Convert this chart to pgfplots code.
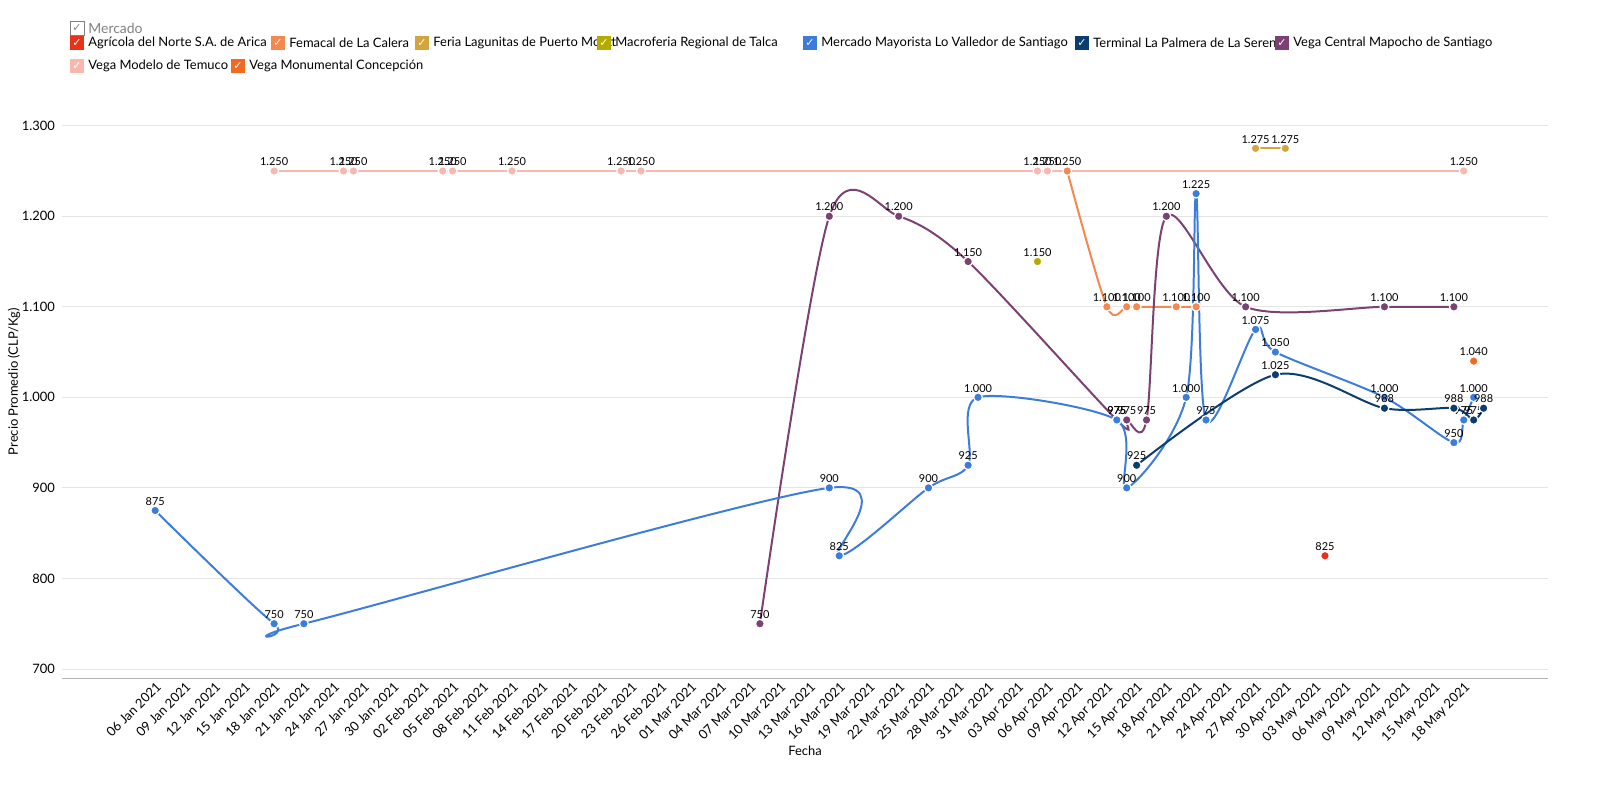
\documentclass[border=0pt]{standalone}
\usepackage{pgfplots}
\pgfplotsset{compat=1.18}
\usepackage{fontspec}
\setmainfont{Lato}
\newfontfamily\dv{DejaVu Sans}
\definecolor{cArica}{HTML}{E8331A}
\definecolor{cFem}{HTML}{F5874F}
\definecolor{cLag}{HTML}{D4A53C}
\definecolor{cTal}{HTML}{B5AA00}
\definecolor{cLov}{HTML}{3C7DDC}
\definecolor{cPal}{HTML}{0B3D6E}
\definecolor{cMap}{HTML}{7B4173}
\definecolor{cTem}{HTML}{F9B8AE}
\definecolor{cMon}{HTML}{F26A21}
\newcommand\lgbox[3]{\fill[#3] (#1,#2-3.5) rectangle ++(7,7);
 \node[white,font=\dv\fontsize{5.5}{6}\selectfont,inner sep=0] at (#1+3.5,#2) {✓};}
\begin{document}
\begin{tikzpicture}[x=1bp,y=1bp]
\useasboundingbox (-31,-53.5) rectangle (769,339);
\begin{axis}[at={(0,0)},anchor=south west,scale only axis,width=743bp,height=296.5bp,
 xmin=-9.4,xmax=140.5,ymin=690,ymax=1345,
 axis line style={draw=none},axis x line*=bottom,
 x axis line style={draw=gray!60},
 ytick={700,800,...,1300},
 ymajorgrids,grid style={gray!20},
 major tick length=0pt,
 xtick={0,3,...,132},
 xticklabels={06 Jan 2021,09 Jan 2021,12 Jan 2021,15 Jan 2021,18 Jan 2021,21 Jan 2021,24 Jan 2021,27 Jan 2021,30 Jan 2021,02 Feb 2021,05 Feb 2021,08 Feb 2021,11 Feb 2021,14 Feb 2021,17 Feb 2021,20 Feb 2021,23 Feb 2021,26 Feb 2021,01 Mar 2021,04 Mar 2021,07 Mar 2021,10 Mar 2021,13 Mar 2021,16 Mar 2021,19 Mar 2021,22 Mar 2021,25 Mar 2021,28 Mar 2021,31 Mar 2021,03 Apr 2021,06 Apr 2021,09 Apr 2021,12 Apr 2021,15 Apr 2021,18 Apr 2021,21 Apr 2021,24 Apr 2021,27 Apr 2021,30 Apr 2021,03 May 2021,06 May 2021,09 May 2021,12 May 2021,15 May 2021,18 May 2021},
 x tick label style={rotate=45,anchor=north east,font=\fontsize{6.5}{7}\selectfont,inner sep=1pt},
 y tick label style={font=\fontsize{6.5}{7}\selectfont},
 /pgf/number format/.cd,1000 sep={.},assume math mode=true,/pgfplots/.cd,
 xlabel={Fecha},ylabel={Precio Promedio (CLP/Kg)},
 label style={font=\fontsize{6.5}{7}\selectfont},
 xlabel style={yshift=4bp},ylabel style={yshift=-6bp},
 nodes near coords,
 every node near coord/.append style={font=\fontsize{5.5}{6}\selectfont,text=black,yshift=-1bp},
 every axis plot/.append style={line width=1pt,mark=*,mark size=2.2pt},
]
\addplot[cTem,smooth,mark options={fill=cTem,draw=white,line width=0.6pt}] coordinates {(12,1250)(19,1250)(20,1250)(29,1250)(30,1250)(36,1250)(47,1250)(49,1250)(89,1250)(90,1250)(132,1250)};
\addplot[cFem,smooth,tension=0.5,mark options={fill=cFem,draw=white,line width=0.6pt}] coordinates {(92,1250)(96,1100)(98,1100)(99,1100)(103,1100)(105,1100)};
\addplot[cLag,mark options={fill=cLag,draw=white,line width=0.6pt}] coordinates {(111,1275)(114,1275)};
\addplot[cTal,mark options={fill=cTal,draw=white,line width=0.6pt}] coordinates {(89,1150)};
\addplot[cMap,smooth,tension=0.5,mark options={fill=cMap,draw=white,line width=0.6pt}] coordinates {(61,750)(68,1200)(75,1200)(82,1150)(97,975)(98,975)(100,975)(102,1200)(110,1100)(124,1100)(131,1100)};
\addplot[cLov,smooth,tension=0.5,mark options={fill=cLov,draw=white,line width=0.6pt}] coordinates {(0,875)(12,750)(15,750)(68,900)(69,825)(78,900)(82,925)(83,1000)(97,975)(98,900)(104,1000)(105,1225)(106,975)(111,1075)(113,1050)(124,1000)(131,950)(132,975)(133,1000)};
\addplot[cPal,smooth,tension=0.5,mark options={fill=cPal,draw=white,line width=0.6pt}] coordinates {(99,925)(113,1025)(124,988)(131,988)(133,975)(134,988)};
\addplot[cArica,mark options={fill=cArica,draw=white,line width=0.6pt}] coordinates {(118,825)};
\addplot[cMon,mark options={fill=cMon,draw=white,line width=0.6pt}] coordinates {(133,1040)};
\end{axis}
\tikzset{lg/.style={anchor=west,font=\fontsize{6.5}{7}\selectfont,inner sep=0pt}}
\draw[gray] (4,321.5) rectangle ++(7,7);
\node[gray,font=\dv\fontsize{5.5}{6}\selectfont,inner sep=0] at (7.5,325) {✓};
\node[lg,text=gray] at (13,325) {\fontsize{7}{8}\selectfont Mercado};
\lgbox{4}{317.5}{cArica}\node[lg] at (13,317.5) {Agrícola del Norte S.A. de Arica};
\lgbox{104.5}{317.5}{cFem}\node[lg] at (113.5,317.5) {Femacal de La Calera};
\lgbox{176.5}{317.5}{cLag}\node[lg] at (185.5,317.5) {Feria Lagunitas de Puerto Montt};
\lgbox{267.5}{317.5}{cTal}\node[lg] at (276.5,317.5) {Macroferia Regional de Talca};
\lgbox{370.5}{317.5}{cLov}\node[lg] at (379.5,317.5) {Mercado Mayorista Lo Valledor de Santiago};
\lgbox{506.5}{317.5}{cPal}\node[lg] at (515.5,317.5) {Terminal La Palmera de La Serena};
\lgbox{606.5}{317.5}{cMap}\node[lg] at (615.5,317.5) {Vega Central Mapocho de Santiago};
\lgbox{4}{306}{cTem}\node[lg] at (13,306) {Vega Modelo de Temuco};
\lgbox{84.5}{306}{cMon}\node[lg] at (93.5,306) {Vega Monumental Concepción};
\end{tikzpicture}
\end{document}
